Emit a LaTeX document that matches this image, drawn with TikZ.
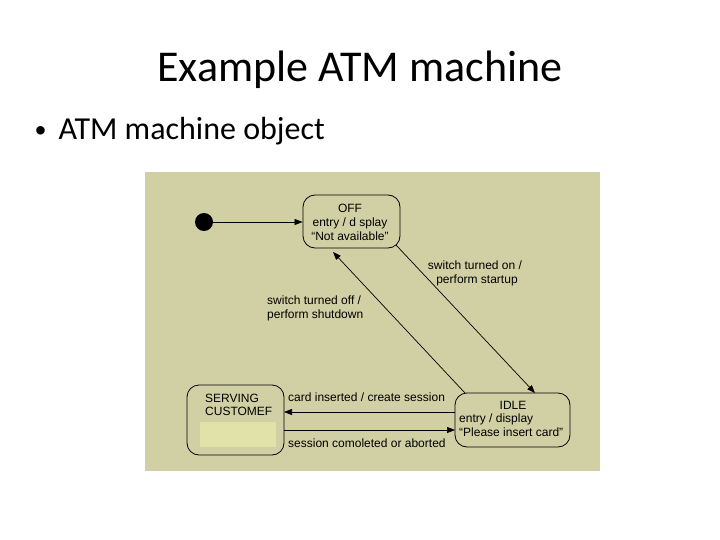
\documentclass[tikz,border=0pt]{standalone}
\usepackage{fontspec}
\setmainfont{Carlito}
\newfontfamily\diafont{Liberation Sans}
\usetikzlibrary{arrows.meta}
\definecolor{panel}{RGB}{209,208,164}
\definecolor{inner}{RGB}{224,226,170}
\tikzset{
  state/.style={draw=black, line width=0.8pt, rounded corners=12pt, inner sep=0pt},
  dtext/.style={font=\diafont\fontsize{12}{14}\selectfont, inner sep=0pt, text=black},
  conn/.style={draw=black, line width=0.7pt, -{Triangle[length=8pt,width=6pt]}},
}
\begin{document}
\begin{tikzpicture}[x=1pt,y=-1pt]
\useasboundingbox (0,0) rectangle (720,540);
\fill[white] (0,0) rectangle (720,540);
% title
\node[font=\fontsize{44}{50}\selectfont, anchor=base] (title) at (360,82) {Example ATM machine};
\node[font=\fontsize{24}{28}\selectfont, anchor=base west] (bul) at (31,138) {•};
\node[font=\fontsize{32}{38}\selectfont, anchor=base west] (sub) at (55,140) {ATM machine object};
% panel
\fill[panel] (145,172) rectangle (600,471);
% initial
\node[circle, fill=black, minimum size=18pt, inner sep=0pt] (init) at (204,222) {};
% OFF state
\node[state, minimum width=97pt, minimum height=53pt] (off) at (351.5,221.5) {};
\node[dtext, align=center] (offt) at (350,222) {OFF\\entry / d splay\\“Not available”};
% IDLE state
\node[state, minimum width=115pt, minimum height=54pt] (idle) at (512.5,420) {};
\node[dtext, anchor=base] (idlet1) at (513,409) {IDLE};
\node[dtext, anchor=base west] (idlet2) at (459,422.5) {entry / display};
\node[dtext, anchor=base west] (idlet3) at (459,436.5) {“Please insert card”};
% SERVING state
\node[state, minimum width=97pt, minimum height=70pt] (serv) at (235.5,420) {};
\fill[inner] (200,422) rectangle (276,447);
\node[dtext, anchor=base west] (servt1) at (205,402) {SERVING};
\node[dtext, anchor=base west] (servt2) at (205,415.5) {CUSTOMEF};
% coordinates
\coordinate (offbr) at (396,245);
\coordinate (idletop) at (535,393);
\coordinate (idletl) at (465,393);
\coordinate (offb) at (333,252);
\coordinate (idleL1) at (455,412);
\coordinate (servR1) at (284,412);
\coordinate (servR2) at (284,430);
\coordinate (idleL2) at (455,430);
% connectors
\draw[conn] (init) -- (off.west |- init);
\draw[conn] (offbr) -- (idletop);
\draw[conn] (idletl) -- (offb);
\draw[conn] (idleL1) -- (servR1);
\draw[conn] (servR2) -- (idleL2);
% labels
\node[dtext, align=center] (lon) at (475,273) {switch turned on /\\ \,\,perform startup};
\node[dtext, align=left, anchor=north west] (loff) at (267,296) {switch turned off /\\perform shutdown};
\node[dtext, anchor=base west] (lcard) at (288,401) {card inserted / create session};
\node[dtext, anchor=base west] (lsess) at (288,447) {session comoleted or aborted};
\end{tikzpicture}
\end{document}
